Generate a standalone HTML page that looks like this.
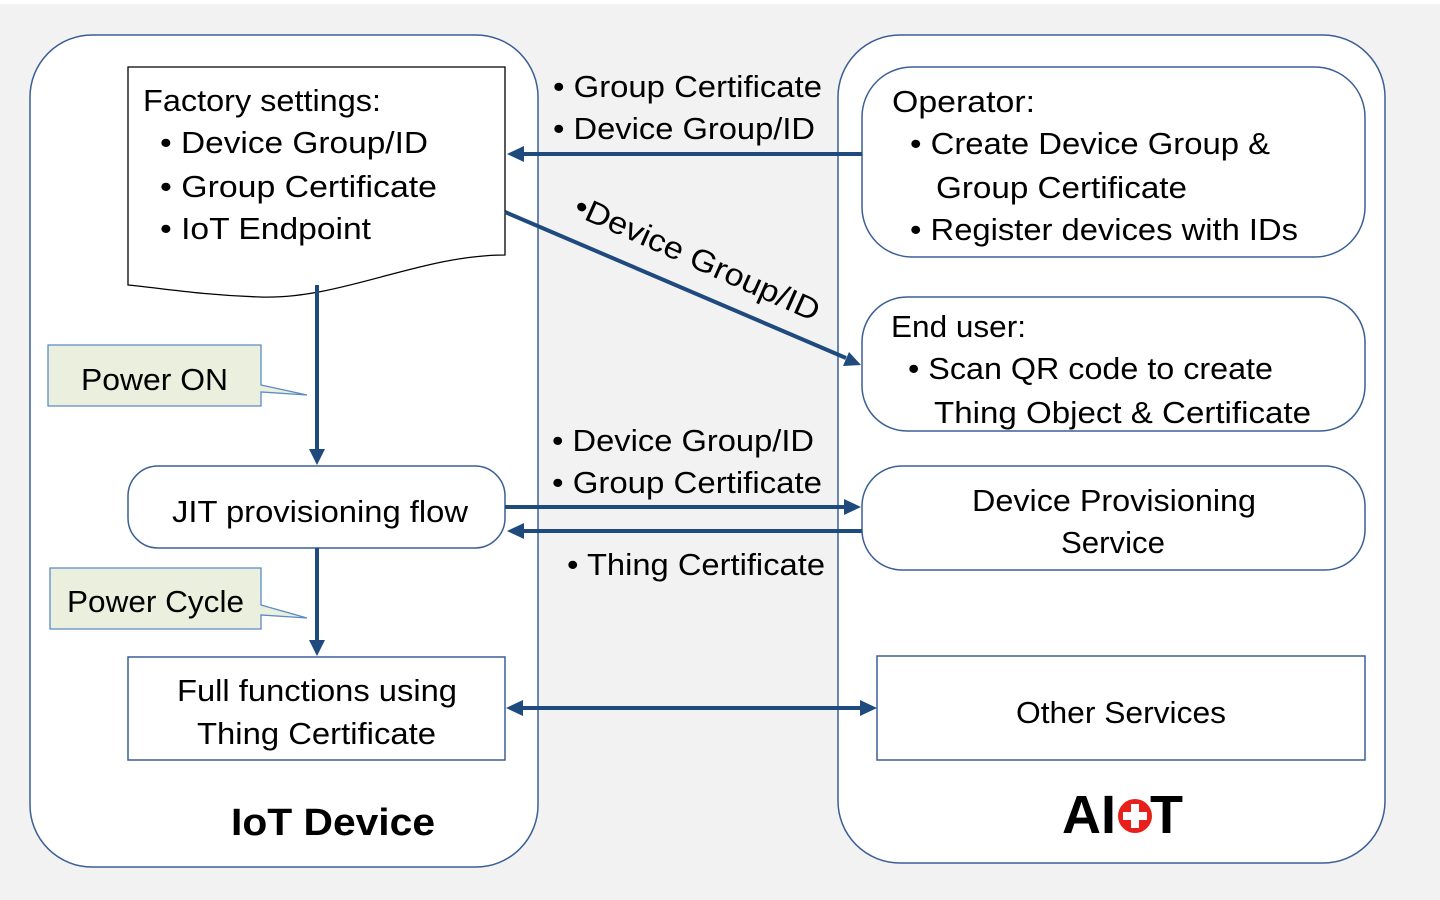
<!DOCTYPE html>
<html><head><meta charset="utf-8"><style>
html,body{margin:0;padding:0;background:#f2f2f2;}
svg{display:block}
text{font-family:"Liberation Sans","DejaVu Sans",sans-serif;font-size:31px;fill:#000}
</style></head><body>
<svg width="1440" height="900" viewBox="0 0 1440 900" xmlns="http://www.w3.org/2000/svg">
<rect x="0" y="0" width="1440" height="900" fill="#f2f2f2"/>
<rect x="0" y="0" width="1440" height="4" fill="#fff"/>
<!-- containers -->
<rect x="30" y="35" width="508" height="832" rx="62" fill="#fff" stroke="#3b5f95" stroke-width="1.5"/>
<rect x="838" y="35" width="547" height="828" rx="62" fill="#fff" stroke="#3b5f95" stroke-width="1.5"/>
<!-- factory doc -->
<path d="M128,67 H505 V255 C420,255 340,300 260,297 C200,295 160,288 128,285 Z" fill="#fff" stroke="#000" stroke-width="1.3"/>
<text x="143" y="111" textLength="238" lengthAdjust="spacingAndGlyphs">Factory settings:</text>
<text x="160" y="153" textLength="268" lengthAdjust="spacingAndGlyphs">•  Device Group/ID</text>
<text x="160" y="197" textLength="277" lengthAdjust="spacingAndGlyphs">•  Group Certificate</text>
<text x="160" y="239" textLength="211" lengthAdjust="spacingAndGlyphs">•  IoT Endpoint</text>
<!-- JIT -->
<rect x="128" y="466" width="377" height="82" rx="30" fill="#fff" stroke="#3b5f95" stroke-width="1.5"/>
<text x="172" y="522" textLength="296" lengthAdjust="spacingAndGlyphs">JIT provisioning flow</text>
<!-- Full functions -->
<rect x="128" y="657" width="377" height="103" fill="#fff" stroke="#3b5f95" stroke-width="1.5"/>
<text x="177" y="701" textLength="280" lengthAdjust="spacingAndGlyphs">Full functions using</text>
<text x="197" y="744" textLength="239" lengthAdjust="spacingAndGlyphs">Thing Certificate</text>
<text x="231" y="835" textLength="204" lengthAdjust="spacingAndGlyphs" style="font-weight:bold;font-size:38px">IoT Device</text>
<!-- callouts -->
<path d="M48,345 H261 V385 L307,395 L261,392 V406 H48 Z" fill="#ebf0de" stroke="#5b8ac6" stroke-width="1.3"/>
<text x="81" y="390" textLength="147" lengthAdjust="spacingAndGlyphs">Power ON</text>
<path d="M50,568 H261 V605 L307,618 L261,615 V629 H50 Z" fill="#ebf0de" stroke="#5b8ac6" stroke-width="1.3"/>
<text x="67" y="612" textLength="177" lengthAdjust="spacingAndGlyphs">Power Cycle</text>
<!-- right boxes -->
<rect x="862" y="67" width="503" height="190" rx="50" fill="#fff" stroke="#3b5f95" stroke-width="1.5"/>
<text x="892" y="112" textLength="143" lengthAdjust="spacingAndGlyphs">Operator:</text>
<text x="910" y="154" textLength="360" lengthAdjust="spacingAndGlyphs">•  Create Device Group &amp;</text>
<text x="936" y="198" textLength="251" lengthAdjust="spacingAndGlyphs">Group Certificate</text>
<text x="910" y="240" textLength="388" lengthAdjust="spacingAndGlyphs">•  Register devices with IDs</text>
<rect x="862" y="297" width="503" height="134" rx="45" fill="#fff" stroke="#3b5f95" stroke-width="1.5"/>
<text x="891" y="337" textLength="135" lengthAdjust="spacingAndGlyphs">End user:</text>
<text x="908" y="379" textLength="365" lengthAdjust="spacingAndGlyphs">•  Scan QR code to create</text>
<text x="934" y="423" textLength="377" lengthAdjust="spacingAndGlyphs">Thing Object &amp; Certificate</text>
<rect x="862" y="466" width="503" height="104" rx="40" fill="#fff" stroke="#3b5f95" stroke-width="1.5"/>
<text x="972" y="511" textLength="284" lengthAdjust="spacingAndGlyphs">Device Provisioning</text>
<text x="1061" y="553" textLength="104" lengthAdjust="spacingAndGlyphs">Service</text>
<rect x="877" y="656" width="488" height="104" fill="#fff" stroke="#3b5f95" stroke-width="1.5"/>
<text x="1016" y="723" textLength="210" lengthAdjust="spacingAndGlyphs">Other Services</text>
<!-- AIoT logo -->
<text x="1062" y="833" style="font-weight:bold;font-size:54px">AI</text>
<circle cx="1135" cy="816" r="17" fill="#e8201c"/>
<rect x="1131" y="804" width="8" height="24" fill="#fff"/>
<rect x="1123" y="812" width="24" height="8" fill="#fff"/>
<text x="1150" y="833" style="font-weight:bold;font-size:54px">T</text>
<!-- arrows -->
<g stroke="#1f4a7e" stroke-width="4" fill="#1f4a7e">
<line x1="862" y1="154" x2="522" y2="154"/>
<polygon points="507,154 524,146 524,162" stroke="none"/>
<line x1="505" y1="212" x2="846" y2="358"/>
<polygon points="861,365 843,366 849,352" stroke="none"/>
<line x1="317" y1="285" x2="317" y2="450"/>
<polygon points="317,465 309,449 325,449" stroke="none"/>
<line x1="317" y1="548" x2="317" y2="641"/>
<polygon points="317,656 309,640 325,640" stroke="none"/>
<line x1="505" y1="507" x2="846" y2="507"/>
<polygon points="861,507 844,499 844,515" stroke="none"/>
<line x1="862" y1="531" x2="522" y2="531"/>
<polygon points="507,531 524,523 524,539" stroke="none"/>
<line x1="522" y1="708" x2="861" y2="708"/>
<polygon points="506,708 523,700 523,716" stroke="none"/>
<polygon points="877,708 860,700 860,716" stroke="none"/>
</g>
<!-- arrow labels -->
<text x="553" y="97" textLength="269" lengthAdjust="spacingAndGlyphs">• Group Certificate</text>
<text x="553" y="139" textLength="262" lengthAdjust="spacingAndGlyphs">• Device Group/ID</text>
<text x="0" y="0" transform="translate(572,214) rotate(24)" textLength="265" lengthAdjust="spacingAndGlyphs">•Device Group/ID</text>
<text x="552" y="451" textLength="262" lengthAdjust="spacingAndGlyphs">• Device Group/ID</text>
<text x="552" y="493" textLength="270" lengthAdjust="spacingAndGlyphs">• Group Certificate</text>
<text x="567" y="575" textLength="258" lengthAdjust="spacingAndGlyphs">• Thing Certificate</text>
</svg>
</body></html>
